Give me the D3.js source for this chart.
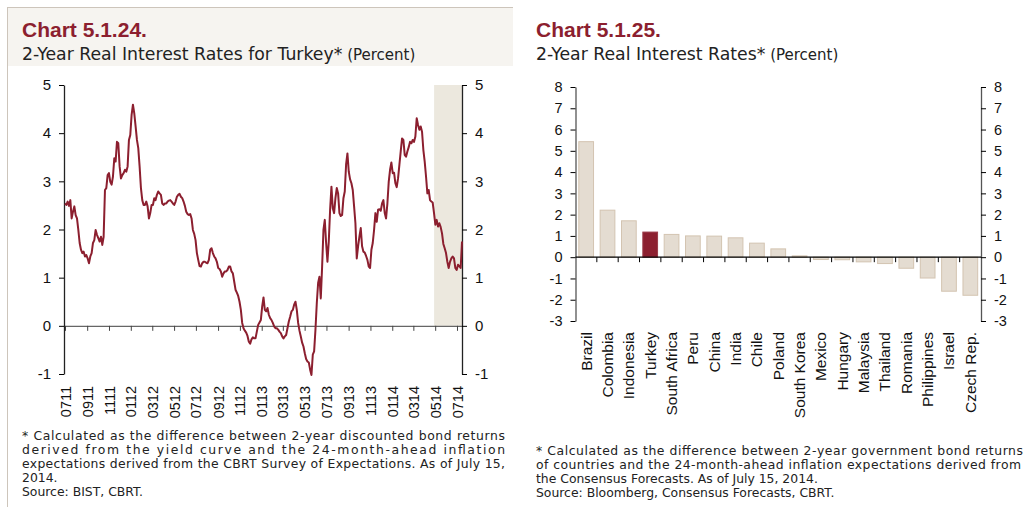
<!DOCTYPE html>
<html>
<head>
<meta charset="utf-8">
<script src="https://cdn.jsdelivr.net/npm/d3@7"></script>
<style>
  body { margin: 0; background: #fff; }
  svg { display: block; }
  .note { font-family: "DejaVu Sans", sans-serif; font-size: 12.4px; fill: #222; }
</style>
</head>
<body>
<svg id="chart" width="1024" height="507"></svg>
<script>
// ---- data: chart 5.1.24 (Turkey 2y real rate, evenly spaced observations) ----
const rateStart = "2011-07-01";
const rateEnd = "2014-07-15";
const shadeStart = "2014-04-28";
const turkeyRates = [
  2.54, 2.51, 2.58, 2.49, 2.61, 2.23, 2.37, 2.48, 2.30, 2.23,
  1.99, 1.72, 1.58, 1.51, 1.54, 1.44, 1.47, 1.40, 1.30, 1.44,
  1.51, 1.72, 1.78, 1.99, 1.89, 1.82, 1.75, 1.85, 1.68, 1.85,
  2.82, 2.86, 3.13, 3.17, 2.99, 2.93, 3.10, 3.48, 3.41, 3.82,
  3.79, 3.31, 3.06, 3.13, 3.17, 3.24, 3.20, 3.31, 3.86, 3.96,
  4.38, 4.59, 4.41, 4.14, 3.86, 3.69, 3.31, 2.86, 2.61, 2.51,
  2.51, 2.58, 2.48, 2.23, 2.34, 2.51, 2.51, 2.65, 2.61, 2.72,
  2.79, 2.75, 2.72, 2.54, 2.51, 2.54, 2.54, 2.58, 2.60, 2.61,
  2.58, 2.54, 2.51, 2.58, 2.68, 2.72, 2.74, 2.68, 2.65, 2.58,
  2.49, 2.37, 2.32, 2.30, 2.32, 2.23, 1.99, 1.91, 1.78, 1.51,
  1.37, 1.24, 1.23, 1.30, 1.33, 1.33, 1.31, 1.30, 1.37, 1.58,
  1.61, 1.51, 1.44, 1.40, 1.33, 1.20, 1.18, 1.13, 1.02, 1.09,
  1.13, 1.13, 1.16, 1.23, 1.23, 1.13, 1.09, 0.92, 0.75, 0.69,
  0.62, 0.50, 0.33, 0.06, -0.05, -0.10, -0.14, -0.21, -0.33, -0.37,
  -0.28, -0.24, -0.26, -0.26, -0.12, 0.02, 0.07,
  0.12, 0.40, 0.59, 0.33, 0.30, 0.37, 0.23, 0.16, 0.12, 0.06,
  -0.01, -0.05, -0.05, -0.08, -0.12, -0.15, -0.22, -0.26, -0.22, -0.19,
  -0.05, 0.09, 0.19, 0.30, 0.33, 0.44, 0.50, 0.33, 0.06, -0.10,
  -0.22, -0.35, -0.43, -0.57, -0.69, -0.74, -0.76, -0.91, -1.02, -0.60,
  -0.53, -0.08, 0.47, 0.89, 1.02, 0.57, 1.23, 1.99, 2.20, 1.72,
  1.33, 1.75, 2.41, 2.89, 2.44, 2.34, 2.65, 2.86, 2.75, 2.34,
  2.28, 2.30, 2.65, 2.79, 3.35, 3.58, 3.20, 3.04, 2.96, 2.82,
  2.48, 2.13, 1.40, 1.65, 1.85, 2.03, 1.65, 1.54, 1.52, 1.45,
  1.37, 1.23, 1.20, 1.58, 1.72, 1.99, 2.34, 2.16, 2.41, 2.42,
  2.39, 2.54, 2.61, 2.34, 2.23, 2.54, 2.99, 3.24, 3.39, 3.17,
  3.18, 2.96, 2.88, 3.06, 3.34, 3.62, 3.89, 3.86, 3.55, 3.51,
  3.62, 3.71, 3.82, 3.79, 3.86, 3.82, 3.93, 4.31, 4.17, 4.07,
  4.14, 4.03, 3.65, 3.41, 3.10, 2.75, 2.82, 2.61, 2.58, 2.56,
  2.34, 2.10, 2.20, 2.06, 2.13, 2.05, 1.92, 1.70, 1.61, 1.51,
  1.33, 1.20, 1.33, 1.40, 1.44, 1.40, 1.20, 1.16, 1.27, 1.24,
  1.20, 1.75
];
const rateTicks = [-1, 0, 1, 2, 3, 4, 5];

// ---- data: chart 5.1.25 (cross-country 2y real rates) ----
const countries = ["Brazil", "Colombia", "Indonesia", "Turkey", "South Africa", "Peru", "China",
  "India", "Chile", "Poland", "South Korea", "Mexico", "Hungary", "Malaysia", "Thailand",
  "Romania", "Philippines", "Israel", "Czech Rep."];
const countryRates = [5.43, 2.21, 1.71, 1.18, 1.07, 1.00, 0.99, 0.91, 0.66, 0.39, 0.06,
  -0.11, -0.12, -0.22, -0.30, -0.52, -0.98, -1.60, -1.79];
const highlightCountry = "Turkey";
const countryTicks = [-3, -2, -1, 0, 1, 2, 3, 4, 5, 6, 7, 8];

const red = "#8c1f2f";
const axisFont = "Liberation Sans, Arial, sans-serif";
const titleFont = "DejaVu Sans, sans-serif";
const svg = d3.select("#chart");
const parse = d3.timeParse("%Y-%m-%d");
const plain = d => String(d); // keeps the ascii hyphen on negatives

// left panel frame + beige title band
svg.append("rect").attr("x", 8).attr("y", 8).attr("width", 505).attr("height", 58).attr("fill", "#f6f4f0");
svg.append("line").attr("x1", 7.5).attr("x2", 7.5).attr("y1", 7).attr("y2", 507).attr("stroke", "#cdc5bb");
svg.append("line").attr("x1", 7).attr("x2", 513).attr("y1", 7.5).attr("y2", 7.5).attr("stroke", "#cdc5bb");

function titles(x, num, sub) {
  svg.append("text").attr("x", x).attr("y", 37)
    .attr("font-family", axisFont).attr("font-weight", "bold").attr("font-size", 21)
    .attr("fill", red).text(num);
  const t = svg.append("text").attr("x", x).attr("y", 60)
    .attr("font-family", titleFont).attr("font-size", 17.3).attr("fill", "#222").text(sub);
  t.append("tspan").attr("font-size", 15).text(" (Percent)");
}
titles(22, "Chart 5.1.24.", "2-Year Real Interest Rates for Turkey*");
titles(536, "Chart 5.1.25.", "2-Year Real Interest Rates*");

function styleAxis(g, size, domainColor) {
  g.attr("font-family", axisFont);
  g.selectAll("text").attr("font-size", size).attr("fill", "#111");
  g.select(".domain").attr("stroke", domainColor).attr("stroke-width", 1.3);
}

// ================= left chart =================
const dates = turkeyRates.map((d, i) => {
  const a = parse(rateStart).getTime(), b = parse(rateEnd).getTime();
  return new Date(a + (b - a) * i / (turkeyRates.length - 1));
});
const x = d3.scaleTime().domain([parse(rateStart), parse(rateEnd)]).range([65, 462]);
const y = d3.scaleLinear().domain([-1, 5]).range([374, 85]);

// shaded period
svg.append("rect")
  .attr("x", x(parse(shadeStart))).attr("y", y(5))
  .attr("width", x(parse(rateEnd)) - x(parse(shadeStart))).attr("height", y(0) - y(5))
  .attr("fill", "#ece8de");

// zero line with 2-month ticks, labels rotated further down
const xAxis = svg.append("g").attr("transform", `translate(0,${y(0)})`)
  .call(d3.axisBottom(x).ticks(d3.timeMonth.every(2)).tickFormat(d3.timeFormat("%m%y")).tickSize(5).tickSizeOuter(0));
styleAxis(xAxis, 14.5, "#666");
xAxis.selectAll(".tick line").attr("stroke", "#444");
xAxis.selectAll(".tick text")
  .attr("text-anchor", "end")
  .attr("x", 0).attr("y", 0).attr("dy", "0.35em")
  .attr("transform", `translate(0,${386 - y(0)}) rotate(-90)`);

const yLeft = svg.append("g").attr("transform", "translate(64,0)")
  .call(d3.axisLeft(y).tickValues(rateTicks).tickFormat(plain).tickSize(5).tickPadding(8).tickSizeOuter(0));
const yRight = svg.append("g").attr("transform", "translate(462,0)")
  .call(d3.axisRight(y).tickValues(rateTicks).tickFormat(plain).tickSize(5).tickPadding(8).tickSizeOuter(0));
styleAxis(yLeft, 15, "#222");
styleAxis(yRight, 15, "#222");

const line = d3.line().x((d, i) => x(dates[i])).y(d => y(d));
svg.append("path").datum(turkeyRates)
  .attr("d", line).attr("fill", "none").attr("stroke", red)
  .attr("stroke-width", 2).attr("stroke-linejoin", "round");

// ================= right chart =================
const xb = d3.scaleBand().domain(countries).range([575.5, 981]).padding(0);
const yb = d3.scaleLinear().domain([-3, 8]).range([321, 87]);
const barW = xb.bandwidth() * 0.69;

svg.append("g").selectAll("rect").data(countries).join("rect")
  .attr("x", c => xb(c) + (xb.bandwidth() - barW) / 2)
  .attr("width", barW)
  .attr("y", (c, i) => yb(Math.max(0, countryRates[i])))
  .attr("height", (c, i) => Math.abs(yb(countryRates[i]) - yb(0)))
  .attr("fill", c => c === highlightCountry ? red : "#e4dcd1")
  .attr("stroke", c => c === highlightCountry ? "#9a3a47" : "#d3c4b1")
  .attr("stroke-width", 1);

const yl = svg.append("g").attr("transform", "translate(575.5,0)")
  .call(d3.axisLeft(yb).tickValues(countryTicks).tickFormat(plain).tickSize(5).tickPadding(8).tickSizeOuter(0));
const yr = svg.append("g").attr("transform", "translate(981,0)")
  .call(d3.axisRight(yb).tickValues(countryTicks).tickFormat(plain).tickSize(5).tickPadding(8).tickSizeOuter(0));
styleAxis(yl, 14.5, "#555");
styleAxis(yr, 14.5, "#555");

// zero line, ticks at category boundaries
svg.append("line").attr("x1", 575.5).attr("x2", 981).attr("y1", yb(0)).attr("y2", yb(0))
  .attr("stroke", "#000").attr("stroke-width", 1.3);
svg.append("g").selectAll("line").data(countries.slice(1)).join("line")
  .attr("x1", c => xb(c)).attr("x2", c => xb(c))
  .attr("y1", yb(0)).attr("y2", yb(0) + 5).attr("stroke", "#000");

const xl = svg.append("g").attr("transform", `translate(0,${yb(-3)})`)
  .call(d3.axisBottom(xb).tickSize(0));
xl.select(".domain").remove();
styleAxis(xl, 15.5, "#000");
xl.selectAll(".tick text")
  .attr("text-anchor", "end")
  .attr("x", 0).attr("y", 0).attr("dy", "0.35em")
  .attr("transform", `translate(0,${332 - yb(-3)}) rotate(-90)`);

// ================= footnotes =================
const leftNotes = [
  ["* Calculated as the difference between 2-year discounted bond returns", 440, 483],
  ["derived from the yield curve and the 24-month-ahead inflation", 454, 483],
  ["expectations derived from the CBRT Survey of Expectations. As of July 15,", 468, 483],
  ["2014.", 482, 0],
  ["Source: BIST, CBRT.", 496, 0]
];
const rightNotes = [
  ["* Calculated as the difference between 2-year government bond returns", 455, 487],
  ["of countries and the 24-month-ahead inflation expectations derived from", 469, 485],
  ["the Consensus Forecasts. As of July 15, 2014.", 483, 0],
  ["Source: Bloomberg, Consensus Forecasts, CBRT.", 497, 0]
];
function notes(x0, rows) {
  rows.forEach(([txt, yy, len]) => {
    const t = svg.append("text").attr("class", "note").attr("x", x0).attr("y", yy).text(txt);
    if (len) t.attr("textLength", len).attr("lengthAdjust", "spacing");
  });
}
notes(22, leftNotes);
notes(536, rightNotes);
</script>
</body>
</html>
